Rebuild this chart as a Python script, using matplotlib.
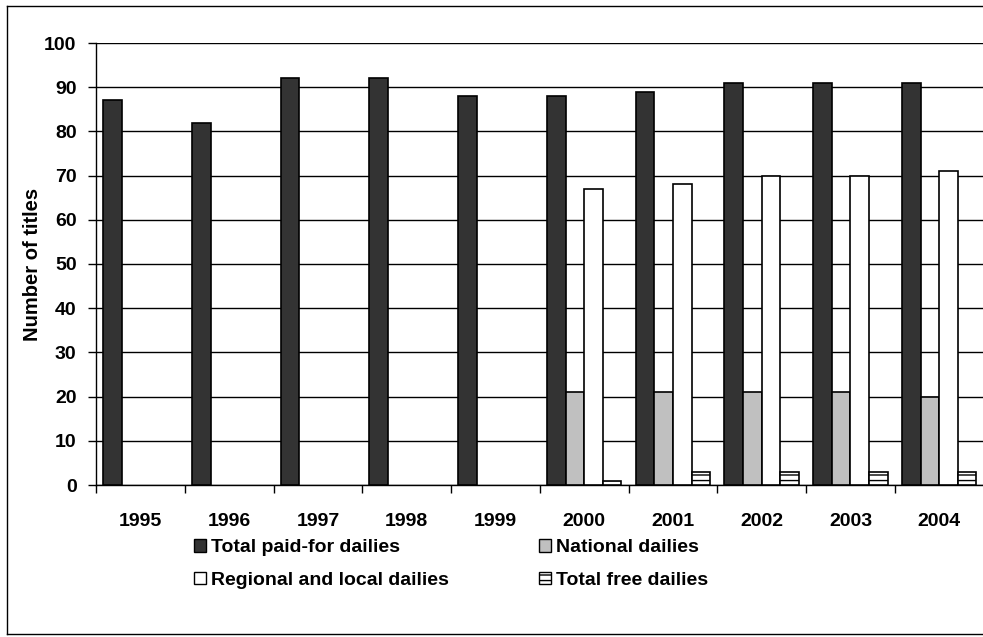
import matplotlib
matplotlib.use("Agg")
import matplotlib.pyplot as plt
import numpy as np
from matplotlib.patches import Rectangle
from matplotlib.lines import Line2D

years = ["1995", "1996", "1997", "1998", "1999", "2000", "2001", "2002", "2003", "2004"]
total_paid = [87, 82, 92, 92, 88, 88, 89, 91, 91, 91]
national = [np.nan, np.nan, np.nan, np.nan, np.nan, 21, 21, 21, 21, 20]
regional = [np.nan, np.nan, np.nan, np.nan, np.nan, 67, 68, 70, 70, 71]
free = [np.nan, np.nan, np.nan, np.nan, np.nan, 1, 3, 3, 3, 3]
series_names = ["Total paid-for dailies", "National dailies",
                "Regional and local dailies", "Total free dailies"]

plt.rcParams['font.family'] = ['Liberation Sans', 'DejaVu Sans']
plt.rcParams['hatch.linewidth'] = 1.0

W, H = 983, 637
fig = plt.figure(figsize=(W / 100, H / 100), dpi=100)
ax_w = 983.6 - 96
ax = fig.add_axes([96 / W, 1 - 485 / H, ax_w / W, (485 - 43) / H])

x = np.arange(len(years))
bw = 0.21
series = [total_paid, national, regional, free]
colors = ["#333333", "#c0c0c0", "#ffffff", "#ffffff"]
hatches = [None, None, None, "---"]
for i, (vals, c, h) in enumerate(zip(series, colors, hatches)):
    ax.bar(x + (i - 1.5) * bw, vals, bw, color=c, edgecolor="black",
           linewidth=1.2, hatch=h, zorder=3, label=series_names[i])

ax.set_xlim(-0.5, len(years) - 0.5)
ax.set_ylim(0, 100)
ax.set_yticks(range(0, 101, 10))
ax.set_xticks(x)
ax.set_xticklabels(years)
ax.set_xticks(np.arange(-0.5, len(years), 1), minor=True)
ax.tick_params(axis="x", which="major", length=0, pad=20)
ax.tick_params(axis="x", which="minor", length=6, width=1, color="black")
ax.tick_params(axis="y", length=6, width=1, direction="out", pad=8)
for lab in ax.get_xticklabels() + ax.get_yticklabels():
    lab.set_fontweight("bold")
    lab.set_fontsize(14)
ax.grid(axis="y", color="black", linewidth=1, zorder=0)
ax.set_axisbelow(True)
for s in ["top", "right"]:
    ax.spines[s].set_visible(False)
ax.spines["left"].set_linewidth(1)
ax.spines["bottom"].set_linewidth(1)
ax.set_ylabel("Number of titles", fontsize=14.5, fontweight="bold")
ax.yaxis.set_label_coords((33 - 96) / ax_w, 0.5)
ax.yaxis.label.set_verticalalignment("center")

# legend order row-wise: paid, national / regional, free
order = [0, 2, 1, 3]
handles = [Rectangle((0, 0), 1, 1, facecolor=colors[i], edgecolor="black",
                     hatch=hatches[i], linewidth=1) for i in order]
labels = [series_names[i] for i in order]
leg = fig.legend(handles, labels, loc="center left", ncol=2,
                 bbox_to_anchor=(194 / W, 1 - 564 / H), frameon=False,
                 prop={"weight": "bold", "size": 14}, handlelength=0.62,
                 handleheight=0.62, handletextpad=0.25, columnspacing=4.65,
                 labelspacing=0.8, borderpad=0, borderaxespad=0)

# outer frame
for xs, ys in [([7 / W, 7 / W], [1 - 6 / H, 1 - 634 / H]),
               ([7 / W, 1], [1 - 6 / H, 1 - 6 / H]),
               ([7 / W, 1], [1 - 634 / H, 1 - 634 / H])]:
    fig.add_artist(Line2D(xs, ys, color="black", lw=1, transform=fig.transFigure))

fig.savefig("out.png", dpi=100)
